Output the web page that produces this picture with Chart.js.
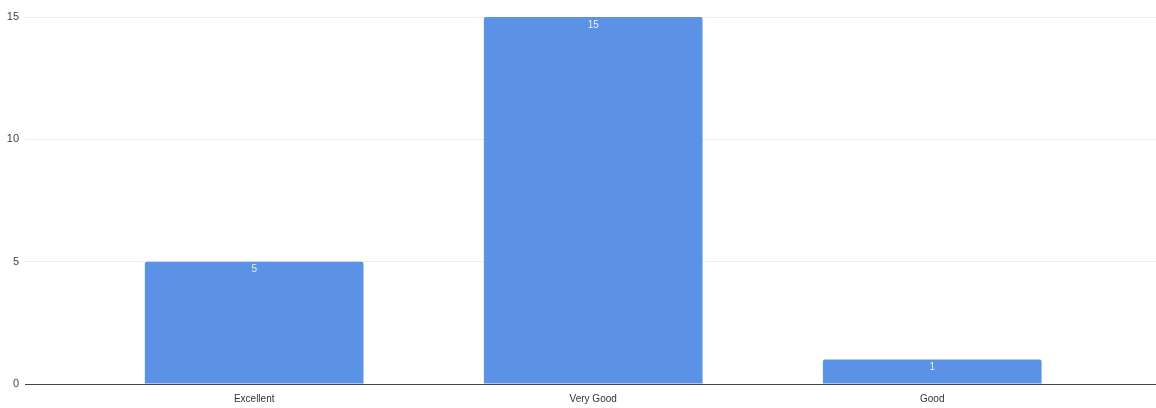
<!DOCTYPE html>
<html>
<head>
<meta charset="utf-8">
<script src="https://cdn.jsdelivr.net/npm/chart.js@4"></script>
<style>
html,body{margin:0;padding:0;background:#fff;}
#wrap{width:1156px;height:408px;position:relative;}
</style>
</head>
<body>
<div id="wrap"><canvas id="c" width="1156" height="408"></canvas></div>
<script>
const categories = ["Excellent", "Very Good", "Good"];
const counts = [5, 15, 1];
const yTicks = [0, 5, 10, 15];

const points = categories.map((c, i) => ({x: i, y: counts[i]}));

const valueLabels = {
  id: 'valueLabels',
  afterDatasetsDraw(chart) {
    const ctx = chart.ctx;
    const meta = chart.getDatasetMeta(0);
    ctx.save();
    ctx.fillStyle = 'rgba(255,255,255,0.85)';
    ctx.font = '10px "Liberation Sans", Arial, sans-serif';
    ctx.textAlign = 'center';
    ctx.textBaseline = 'middle';
    meta.data.forEach((bar, i) => {
      ctx.fillText(String(counts[i]), bar.x, bar.y + 8);
    });
    ctx.restore();
  }
};

new Chart(document.getElementById('c'), {
  type: 'bar',
  data: {
    datasets: [{
      data: points,
      backgroundColor: '#5b92e5',
      borderRadius: 2,
      borderSkipped: 'bottom',
      categoryPercentage: 1,
      barPercentage: 0.645
    }]
  },
  options: {
    responsive: false,
    animation: false,
    layout: {padding: {top: 17, right: 0, left: 0, bottom: -6}},
    plugins: {legend: {display: false}, tooltip: {enabled: false}},
    scales: {
      x: {
        type: 'linear',
        offset: false,
        bounds: 'data',
        min: -0.676,
        max: 2.66,
        afterBuildTicks(scale) { scale.ticks = categories.map((c, i) => ({value: i})); },
        ticks: {
          callback: (v) => categories[v] ?? '',
          color: '#333',
          font: {family: '"Liberation Sans", Arial, sans-serif', size: 10},
          padding: 9,
          maxRotation: 0,
          autoSkip: false
        },
        grid: {display: false, drawTicks: false},
        border: {display: true, color: '#444', width: 1}
      },
      y: {
        min: 0,
        max: 15,
        afterBuildTicks(scale) { scale.ticks = yTicks.map(v => ({value: v})); },
        afterFit(scale) { scale.width = 25; },
        ticks: {
          color: '#444',
          font: {family: '"Liberation Sans", Arial, sans-serif', size: 11},
          padding: 6
        },
        grid: {color: '#ececec', drawTicks: false},
        border: {display: false}
      }
    }
  },
  plugins: [valueLabels]
});
</script>
</body>
</html>
